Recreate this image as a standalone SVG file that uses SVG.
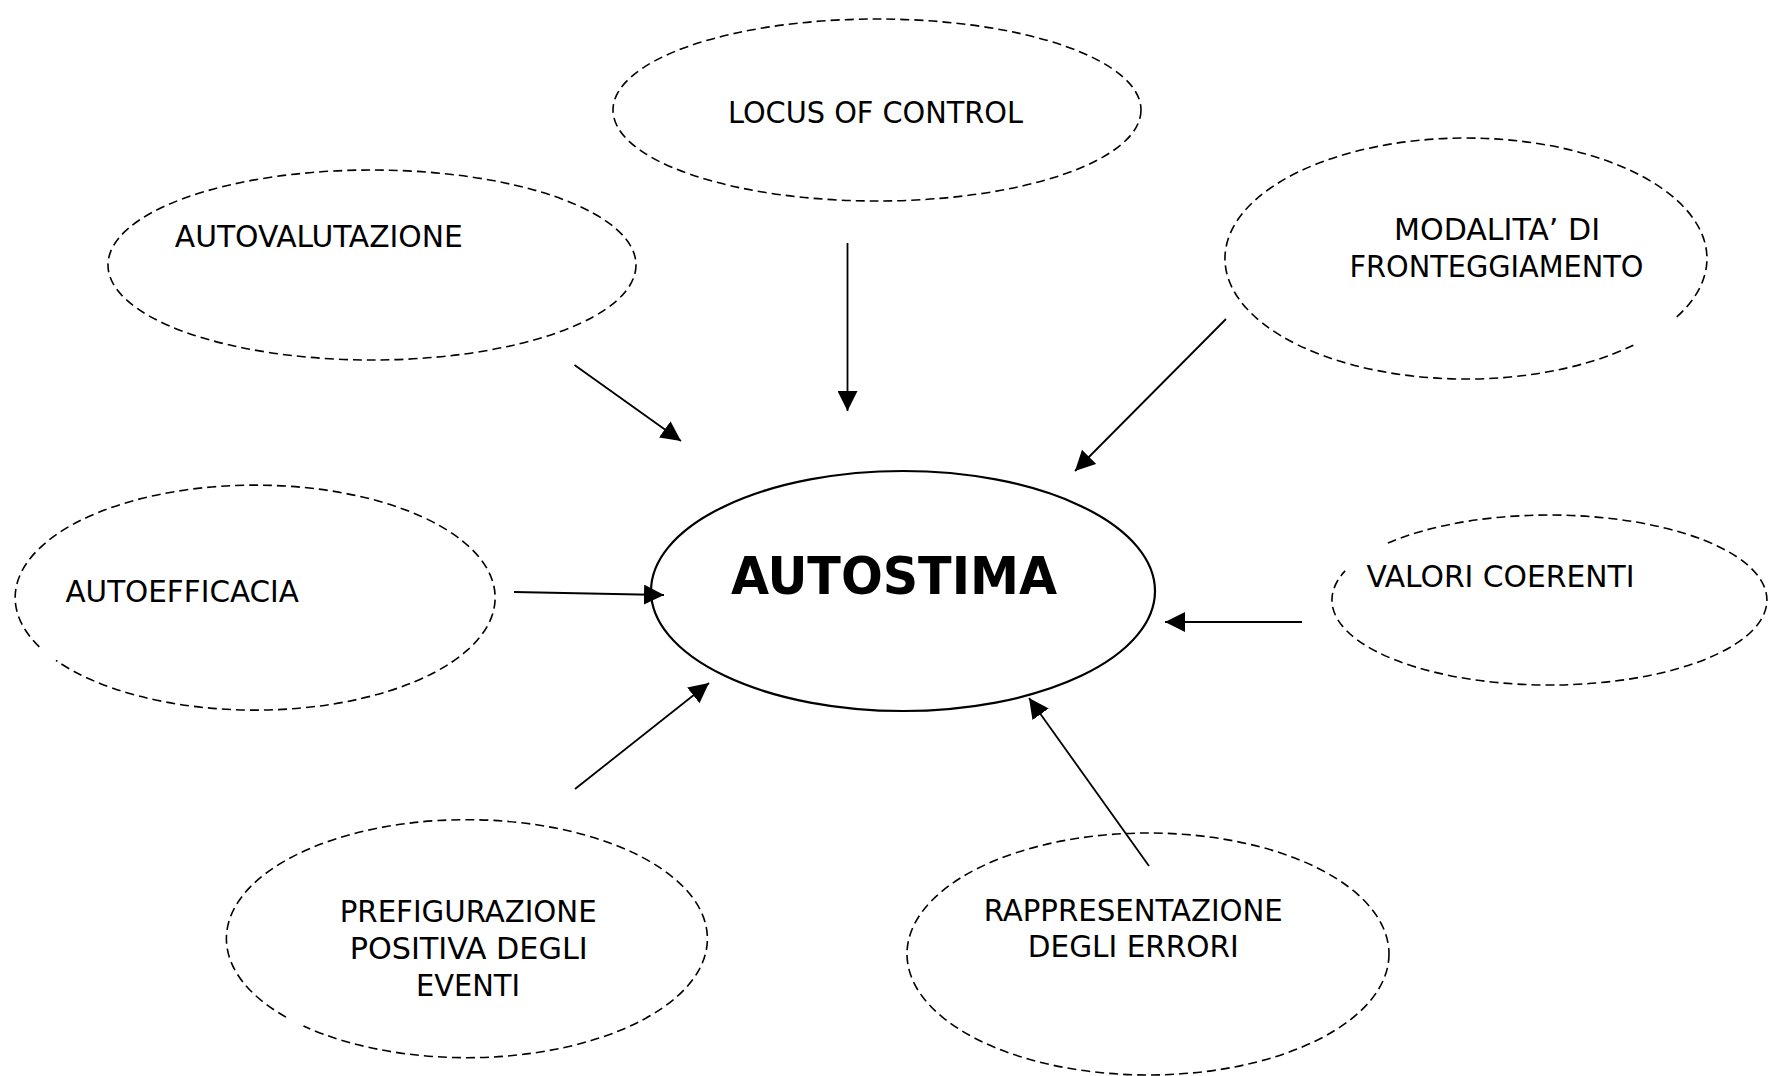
<svg xmlns="http://www.w3.org/2000/svg" width="1769" height="1076" viewBox="0 0 1769 1076">
  <style>
    .dash { fill: none; stroke: #000; stroke-width: 1.6; stroke-dasharray: 9 5; }
    .main { fill: none; stroke: #000; stroke-width: 2.2; }
    .lbl { font-family: 'DejaVu Sans Condensed', 'DejaVu Sans', sans-serif; font-stretch: condensed; font-size: 31px; fill: #000; text-anchor: middle; }
    .big { font-family: 'DejaVu Sans Condensed', 'DejaVu Sans', sans-serif; font-stretch: condensed; font-weight: bold; font-size: 52px; fill: #000; text-anchor: middle; }
    .conn line { stroke: #000; stroke-width: 1.8; marker-end: url(#ah); }
  </style>
  <defs>
    <marker id="ah" markerUnits="userSpaceOnUse" viewBox="0 0 20 20" markerWidth="20" markerHeight="20" refX="20" refY="10" orient="auto">
      <path d="M0,0 L20,10 L0,20 z" fill="#000"/>
    </marker>
  </defs>
  <rect width="1769" height="1076" fill="#fff"/>

  <g id="autostima">
    <ellipse class="main" cx="903" cy="591" rx="252" ry="120"/>
    <text class="big" x="894" y="594" textLength="326" lengthAdjust="spacingAndGlyphs">AUTOSTIMA</text>
  </g>

  <g id="locus">
    <ellipse class="dash" cx="877" cy="110" rx="264" ry="91"/>
    <text class="lbl" x="875.5" y="123" textLength="295" lengthAdjust="spacingAndGlyphs">LOCUS OF CONTROL</text>
  </g>

  <g id="autovalutazione">
    <ellipse class="dash" cx="372" cy="265" rx="264" ry="95"/>
    <text class="lbl" x="318.8" y="247" textLength="288" lengthAdjust="spacingAndGlyphs">AUTOVALUTAZIONE</text>
  </g>

  <g id="modalita">
    <path class="dash" d="M1633.4,345.2 A241,120.5 0 1 1 1676.8,316.9"/>
    <text class="lbl" x="1497" y="240" textLength="206" lengthAdjust="spacingAndGlyphs">MODALITA’ DI</text>
    <text class="lbl" x="1496.5" y="277" textLength="294" lengthAdjust="spacingAndGlyphs">FRONTEGGIAMENTO</text>
  </g>

  <g id="autoefficacia">
    <path class="dash" d="M39.3,646.8 A240,112.5 0 1 1 56,660.4"/>
    <text class="lbl" x="182.2" y="602" textLength="233.5" lengthAdjust="spacingAndGlyphs">AUTOEFFICACIA</text>
  </g>

  <g id="valori">
    <path class="dash" d="M1387.9,543.1 A217.5,85 0 1 1 1345.1,570.9"/>
    <text class="lbl" x="1500.5" y="587" textLength="268" lengthAdjust="spacingAndGlyphs">VALORI COERENTI</text>
  </g>

  <g id="prefigurazione">
    <path class="dash" d="M286,1017.1 A240.5,119 0 1 1 303.5,1026"/>
    <text class="lbl" x="468.2" y="922" textLength="257" lengthAdjust="spacingAndGlyphs">PREFIGURAZIONE</text>
    <text class="lbl" x="468.7" y="959" textLength="238" lengthAdjust="spacingAndGlyphs">POSITIVA DEGLI</text>
    <text class="lbl" x="468" y="996" textLength="104" lengthAdjust="spacingAndGlyphs">EVENTI</text>
  </g>

  <g id="rappresentazione">
    <ellipse class="dash" cx="1148" cy="954" rx="241" ry="121"/>
    <text class="lbl" x="1133.3" y="921" textLength="299" lengthAdjust="spacingAndGlyphs">RAPPRESENTAZIONE</text>
    <text class="lbl" x="1133.3" y="957" textLength="211" lengthAdjust="spacingAndGlyphs">DEGLI ERRORI</text>
  </g>

  <g id="connectors" class="conn">
    <line x1="847.5" y1="243" x2="847.5" y2="411"/>
    <line x1="574.5" y1="365" x2="681" y2="441"/>
    <line x1="1226" y1="319" x2="1075" y2="471"/>
    <line x1="514" y1="592" x2="664" y2="595"/>
    <line x1="1302" y1="622" x2="1165" y2="622"/>
    <line x1="575" y1="789" x2="709" y2="683"/>
    <line x1="1149" y1="866" x2="1029" y2="698"/>
  </g>
</svg>
